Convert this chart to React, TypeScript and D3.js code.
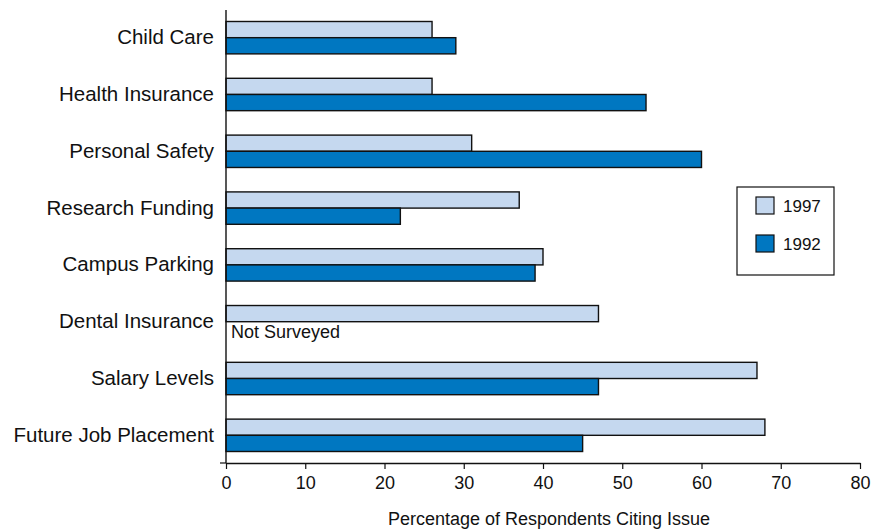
import { useEffect, useRef } from "react"
import * as d3 from "d3"

const categories = [
  "Child Care",
  "Health Insurance",
  "Personal Safety",
  "Research Funding",
  "Campus Parking",
  "Dental Insurance",
  "Salary Levels",
  "Future Job Placement",
]
const values1997 = [26, 26, 31, 37, 40, 47, 67, 68]
const values1992: (number | null)[] = [29, 53, 60, 22, 39, null, 47, 45]
const seriesNames = ["1997", "1992"]
const xTicks = [0, 10, 20, 30, 40, 50, 60, 70, 80]

const LIGHT = "#c5d8ef"
const DARK = "#0077c1"

export default function App() {
  const svgRef = useRef<SVGSVGElement>(null)
  const width = 873
  const height = 529

  useEffect(() => {
    const svg = d3.select(svgRef.current)
    svg.selectAll("*").remove()

    const font = "'Liberation Sans', Arial, sans-serif"
    const x = d3.scaleLinear().domain([0, 80]).range([226, 860])
    const y = d3.scaleBand<string>().domain(categories).range([9, 464]).paddingInner(0.43).paddingOuter(0.22)
    const half = y.bandwidth() / 2

    const g = svg.append("g")

    // bars
    categories.forEach((c, i) => {
      const y0 = y(c) as number
      g.append("rect")
        .attr("x", x(0))
        .attr("y", y0)
        .attr("width", x(values1997[i]) - x(0))
        .attr("height", half)
        .attr("fill", LIGHT)
        .attr("stroke", "#111")
        .attr("stroke-width", 1.4)
      const v = values1992[i]
      if (v != null) {
        g.append("rect")
          .attr("x", x(0))
          .attr("y", y0 + half)
          .attr("width", x(v) - x(0))
          .attr("height", half)
          .attr("fill", DARK)
          .attr("stroke", "#111")
          .attr("stroke-width", 1.4)
      } else {
        g.append("text")
          .attr("x", x(0) + 5)
          .attr("y", y0 + half + 16)
          .attr("font-family", font)
          .attr("font-size", 18)
          .attr("fill", "#111")
          .text("Not Surveyed")
      }
      g.append("text")
        .attr("x", 214)
        .attr("y", y0 + half)
        .attr("dy", "0.32em")
        .attr("text-anchor", "end")
        .attr("font-family", font)
        .attr("font-size", 20.5)
        .attr("fill", "#111")
        .text(c)
    })

    // axes
    const xAxis = g.append("g").attr("transform", `translate(0,463)`).call(
      d3.axisBottom(x).tickValues(xTicks).tickSize(6).tickPadding(7).tickSizeOuter(0)
    )
    xAxis.select(".domain").attr("stroke", "#111").attr("stroke-width", 1.4)
    xAxis.selectAll(".tick line").attr("stroke", "#111").attr("stroke-width", 1.2)
    xAxis.selectAll(".tick text").attr("font-family", font).attr("font-size", 18).attr("fill", "#111")

    g.append("line")
      .attr("x1", x(0)).attr("x2", x(0))
      .attr("y1", 10).attr("y2", 463)
      .attr("stroke", "#111").attr("stroke-width", 1.4)
    g.append("line")
      .attr("x1", x(0) - 6).attr("x2", x(0))
      .attr("y1", 463).attr("y2", 463)
      .attr("stroke", "#111").attr("stroke-width", 1.2)

    g.append("text")
      .attr("x", 549)
      .attr("y", 525)
      .attr("text-anchor", "middle")
      .attr("font-family", font)
      .attr("font-size", 18)
      .attr("fill", "#111")
      .text("Percentage of Respondents Citing Issue")

    // legend
    const lg = g.append("g").attr("transform", "translate(737,187)")
    lg.append("rect").attr("width", 97).attr("height", 88)
      .attr("fill", "white").attr("stroke", "#111").attr("stroke-width", 1.2)
    seriesNames.forEach((s, i) => {
      lg.append("rect")
        .attr("x", 19).attr("y", 10 + i * 38)
        .attr("width", 18).attr("height", 17)
        .attr("fill", i === 0 ? LIGHT : DARK)
        .attr("stroke", "#111").attr("stroke-width", 1.2)
      lg.append("text")
        .attr("x", 46).attr("y", 10 + i * 38 + 9)
        .attr("dy", "0.35em")
        .attr("font-family", font)
        .attr("font-size", 17)
        .attr("fill", "#111")
        .text(s)
    })
  }, [])

  return (
    <svg
      ref={svgRef}
      width={width}
      height={height}
      style={{ position: "absolute", left: 0, top: 0, display: "block" }}
    />
  )
}
